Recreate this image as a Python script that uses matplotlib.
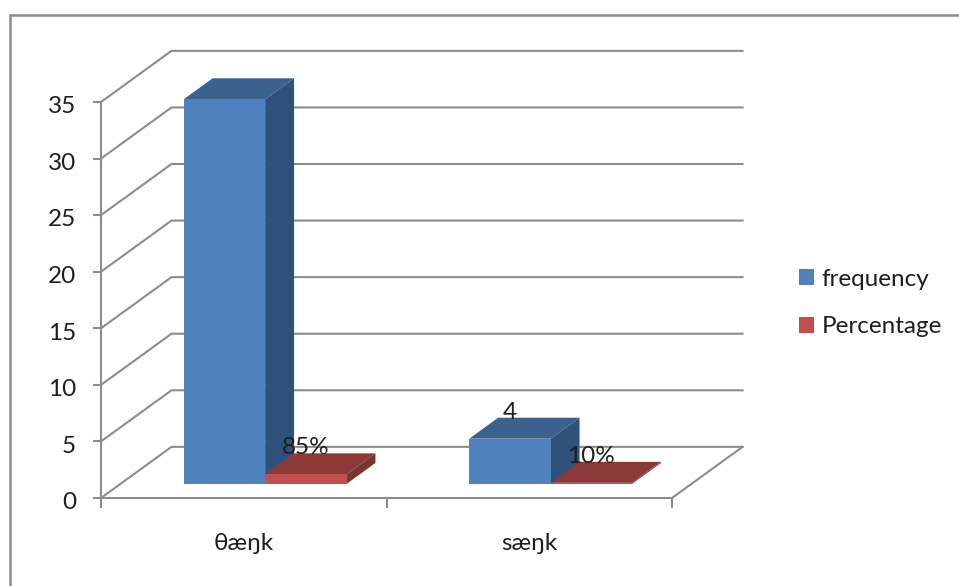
# -*- coding: utf-8 -*-
import numpy as np
import matplotlib
matplotlib.use("Agg")
import matplotlib.pyplot as plt
import matplotlib.patches as ptch
from matplotlib.transforms import ScaledTranslation

plt.rcParams['font.family'] = ['Lato', 'Noto Sans', 'DejaVu Sans']

## Data
categories = ['θæŋk', 'sæŋk']
series_names = ['frequency', 'Percentage']
frequency = [34, 4]
percentage = [0.85, 0.10]
freq_labels = ['34', '4']
pct_labels = ['85%', '10%']
yticks = [0, 5, 10, 15, 20, 25, 30, 35]

# Colours: front, top and side of each box
blue = ['#4F81BD', '#3B618F', '#2F527C']
red = ['#C0504D', '#8C3A38', '#7A3432']
grid_col = '#8C8C8C'
text_col = '#1E1E1E'
fsize = 17.5

W, H = 959, 586
fig = plt.figure(figsize=(W/100, H/100), dpi=100)
fig.patch.set_facecolor('white')

# Front plane of the plot box in pixels
x0, x1, y0, y1 = 101, 672, 498, 102
ax = fig.add_axes([x0/W, 1-y0/H, (x1-x0)/W, (y0-y1)/H])
ax.set_xlim(0, 2)
ax.set_ylim(0, 35)
ax.patch.set_alpha(0)

# Oblique offset of the back wall, in data units
wall_dx = 0.247
wall_dy = 4.52
# Bars sit part of the way into the floor
bar_front = 0.275
bar_depth = 0.41
bar_w = 0.285
bar_start = 0.222


def box(x, h, cols):
    # front face at depth bar_front, drawn as side, top, front
    fx = x + bar_front*wall_dx
    fy = bar_front*wall_dy
    ddx = bar_depth*wall_dx
    ddy = bar_depth*wall_dy
    top = fy + h
    ax.add_patch(ptch.Polygon([(fx+bar_w, fy), (fx+bar_w+ddx, fy+ddy),
                               (fx+bar_w+ddx, top+ddy), (fx+bar_w, top)],
                              fc=cols[2], ec='none', clip_on=False, zorder=3))
    ax.add_patch(ptch.Polygon([(fx, top), (fx+ddx, top+ddy),
                               (fx+bar_w+ddx, top+ddy), (fx+bar_w, top)],
                              fc=cols[1], ec='none', clip_on=False, zorder=3))
    ax.add_patch(ptch.Rectangle((fx, fy), bar_w, h, fc=cols[0], ec='none',
                                clip_on=False, zorder=3))
    return fx + bar_w/2, top


# Back wall gridlines and side wall lines
for t in yticks:
    ax.plot([0, wall_dx, 2+wall_dx], [t, t+wall_dy, t+wall_dy], color=grid_col,
            lw=1.5, clip_on=False, zorder=1, solid_joinstyle='miter')
# Right edge of the floor
ax.plot([2, 2+wall_dx], [0, wall_dy], color=grid_col, lw=1.5, clip_on=False, zorder=1)

# Boxes with their value labels
for i in range(len(categories)):
    cx, top = box(i + bar_start, frequency[i], blue)
    ax.annotate(freq_labels[i], (cx, top), xytext=(0, 19), textcoords='offset points',
                ha='center', va='center', fontsize=fsize, color=text_col, zorder=5)
    cx, top = box(i + bar_start + bar_w, percentage[i], red)
    ax.annotate(pct_labels[i], (cx, top), xytext=(0, 19), textcoords='offset points',
                ha='center', va='center', fontsize=fsize, color=text_col, zorder=5)

# Axes
for s in ['top', 'right']:
    ax.spines[s].set_visible(False)
for s in ['left', 'bottom']:
    ax.spines[s].set_color(grid_col)
    ax.spines[s].set_linewidth(1.5)
ax.set_yticks(yticks)
ax.tick_params(axis='y', length=6, width=1.5, color=grid_col, pad=12,
               labelsize=fsize, labelcolor=text_col)
ax.set_xticks([0, 1, 2])
ax.set_xticklabels([])
ax.set_xticks([0.5, 1.5], minor=True)
ax.set_xticklabels(categories, minor=True)
ax.tick_params(axis='x', which='major', length=7, width=1.5, color=grid_col)
ax.tick_params(axis='x', which='minor', length=0, pad=25, labelsize=fsize,
               labelcolor=text_col)

# y tick labels sit a little under their ticks
shift = ScaledTranslation(0, -2/72, fig.dpi_scale_trans)
for lab in ax.get_yticklabels():
    lab.set_transform(lab.get_transform() + shift)

# Legend
handles = [ptch.Patch(fc=blue[0], ec='none', label=series_names[0]),
           ptch.Patch(fc=red[0], ec='none', label=series_names[1])]
fig.legend(handles=handles, loc='center left', bbox_to_anchor=(799/W, 1-303/H),
           frameon=False, fontsize=fsize, labelcolor=text_col, handlelength=0.6,
           handleheight=0.62, handletextpad=0.33, labelspacing=1.1, borderpad=0,
           borderaxespad=0)

# Outer chart border, only the top and left are in view
fig.add_artist(plt.Line2D([9.5/W, 9.5/W, 1], [0, 1-14.5/H, 1-14.5/H],
                          color='#8C8C8C', lw=1.8, solid_joinstyle='miter'))

plt.savefig('out.png', dpi=100)
